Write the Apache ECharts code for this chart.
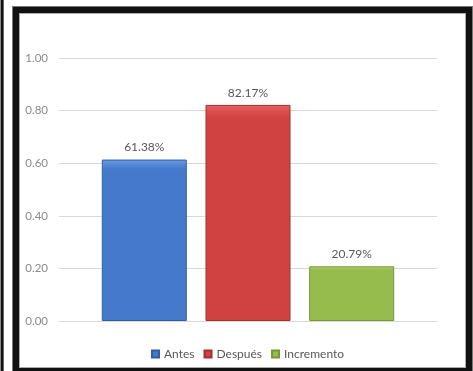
<!DOCTYPE html>
<html>
<head>
<meta charset="utf-8">
<script src="https://cdn.jsdelivr.net/npm/echarts@6/dist/echarts.min.js"></script>
<style>
  html, body { margin: 0; padding: 0; background: #fff; width: 473px; height: 371px; overflow: hidden; }
  .stripe { position: absolute; left: 0; top: 0; width: 2px; height: 371px; border-left: 1px solid #888; border-right: 1px solid #666; background: #111; }
  .frame { position: absolute; left: 13px; top: 7px; width: 447px; height: 355px; border: 6px solid #111; box-shadow: inset 0 0 0 1px #aaa, 0 0 0 1px #777; }
  #chart { position: absolute; left: 0; top: 0; width: 473px; height: 371px; }
</style>
</head>
<body>
<div class="stripe"></div>
<div class="frame"></div>
<div id="chart"></div>
<script>
// datos
const categorias = ['']
const series = ['Antes', 'Después', 'Incremento']
const valores = [0.6138, 0.8217, 0.2079]
const ticks = [0, 0.2, 0.4, 0.6, 0.8, 1.0]

const colores = [
  ['#6a9be2', '#4479cc', '#2f5f9f'],
  ['#e86060', '#d04141', '#a33030'],
  ['#b8da70', '#96bc4e', '#76963a']
]

let myChart = echarts.init(document.getElementById('chart'), null, { renderer: 'canvas' })

myChart.setOption({
  animation: false,
  backgroundColor: 'transparent',
  textStyle: { fontFamily: 'Lato, "Open Sans", sans-serif' },
  grid: { left: 59, right: 36, top: 58, bottom: 50 },
  legend: {
    data: series,
    left: 146,
    top: 343,
    itemWidth: 7,
    itemHeight: 7,
    itemGap: 9,
    icon: 'rect',
    textStyle: { color: '#595959', fontSize: 12, fontFamily: 'Lato, sans-serif' }
  },
  xAxis: {
    type: 'category',
    data: categorias,
    axisLine: { show: false },
    axisTick: { show: false },
    axisLabel: { show: false }
  },
  yAxis: {
    type: 'value',
    min: ticks[0],
    max: ticks[ticks.length - 1],
    interval: 0.2,
    axisLabel: {
      color: '#8a8a8a',
      fontSize: 11.5,
      margin: 11,
      formatter: v => v.toFixed(2)
    },
    splitLine: { show: true, lineStyle: { color: '#d9d9d9', width: 1 } },
    axisLine: { show: false },
    axisTick: { show: false }
  },
  series: series.map((name, i) => ({
    name: name,
    type: 'bar',
    data: [valores[i]],
    barWidth: 85,
    barGap: '22%',
    itemStyle: {
      color: new echarts.graphic.LinearGradient(0, 0, 0, 1, [
        { offset: 0, color: colores[i][0] },
        { offset: 0.06, color: colores[i][1] },
        { offset: 1, color: colores[i][1] }
      ]),
      borderColor: colores[i][2],
      borderWidth: 1
    },
    label: {
      show: true,
      position: 'top',
      distance: 6,
      color: '#595959',
      fontSize: 12,
      formatter: p => (p.value * 100).toFixed(2) + '%'
    }
  }))
})
</script>
</body>
</html>
